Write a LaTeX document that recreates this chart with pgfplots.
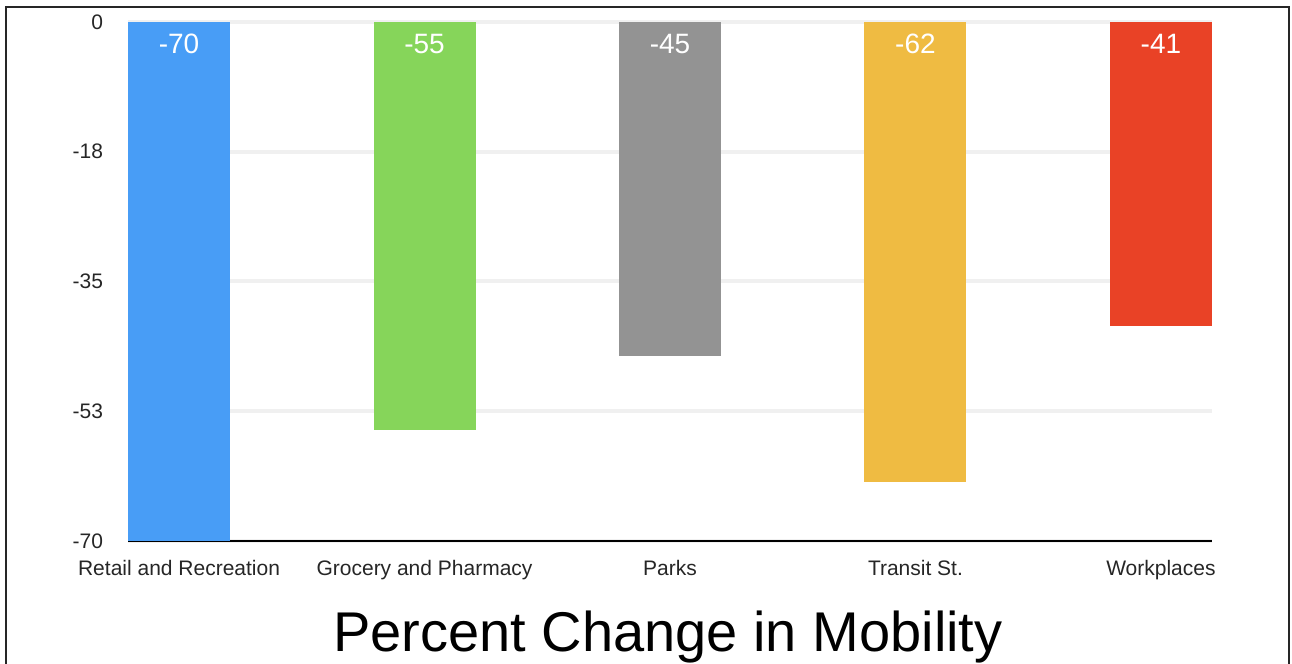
\documentclass[border=0pt]{standalone}
\usepackage{fontspec}
\setmainfont{Liberation Sans}
\usepackage{pgfplots}
\pgfplotsset{compat=1.18}
\definecolor{cblue}{HTML}{489DF6}
\definecolor{cgreen}{HTML}{86D55A}
\definecolor{cgray}{HTML}{939393}
\definecolor{cyellow}{HTML}{EFBB42}
\definecolor{cred}{HTML}{E94226}
\begin{document}
\begin{tikzpicture}
\useasboundingbox (0,0) rectangle (646pt,332pt);
\draw[line width=1.2pt, color=black!85] (3pt,-1pt) -- (3pt,328.5pt) -- (644.5pt,328.5pt) -- (644.5pt,-1pt);
\begin{axis}[at={(64pt,61.5pt)}, anchor=south west, scale only axis, width=542pt, height=259.5pt,
 xmin=-0.208, xmax=4.208, ymin=-70, ymax=0,
 ybar, bar width=51pt, bar shift=0pt,
 xtick={0,1,2,3,4},
 xticklabels={Retail and Recreation, Grocery and Pharmacy, Parks, Transit St., Workplaces},
 ytick={0,-17.5,-35,-52.5,-70},
 yticklabels={0,-18,-35,-53,-70},
 major tick length=0pt,
 axis lines*=left,
 y axis line style={draw=none},
 x axis line style={line width=1pt, -},
 ymajorgrids, grid style={line width=2pt, gray!12},
 tick label style={font=\fontsize{10.5}{12}\selectfont, text=black!85},
 xticklabel style={yshift=-6pt},
 yticklabel style={xshift=-9pt},
 /pgf/number format/assume math mode=true,
]
\addplot[fill=cblue, draw=none] coordinates {(0,-70)};
\addplot[fill=cgreen, draw=none] coordinates {(1,-55)};
\addplot[fill=cgray, draw=none] coordinates {(2,-45)};
\addplot[fill=cyellow, draw=none] coordinates {(3,-62)};
\addplot[fill=cred, draw=none] coordinates {(4,-41)};
\foreach \i/\v in {0/-70,1/-55,2/-45,3/-62,4/-41}{
  \edef\tmp{\noexpand\node[anchor=north, text=white, font=\noexpand\fontsize{14}{16}\noexpand\selectfont, inner sep=0pt] at (axis cs:\i,0) [yshift=-6pt] {\v};}
  \tmp
}
\end{axis}
\node[anchor=base, font=\fontsize{28}{32}\selectfont] at (334pt,6pt) {Percent Change in Mobility};
\end{tikzpicture}
\end{document}
